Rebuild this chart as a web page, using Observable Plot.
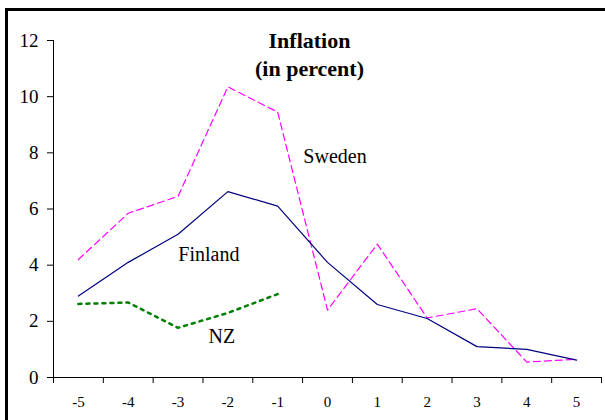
<!DOCTYPE html>
<html>
<head>
<meta charset="utf-8">
<script src="https://cdn.jsdelivr.net/npm/d3@7"></script>
<script src="https://cdn.jsdelivr.net/npm/@observablehq/plot@0.6"></script>
<style>
  html, body { margin: 0; padding: 0; background: #fff; overflow: hidden; }
  #wrap { position: relative; width: 605px; height: 420px; }
  #border { position: absolute; left: 5px; top: 8px; width: 700px; height: 500px;
            border-left: 3px solid #000; border-top: 3px solid #000; pointer-events: none; }
</style>
</head>
<body>
<div id="wrap"><div id="border"></div></div>
<script>
const periods = [-5, -4, -3, -2, -1, 0, 1, 2, 3, 4, 5];
const sweden  = [4.2, 5.85, 6.45, 10.35, 9.45, 2.4, 4.75, 2.12, 2.45, 0.55, 0.65];
const finland = [2.9, 4.1, 5.1, 6.62, 6.1, 4.1, 2.6, 2.1, 1.1, 1.0, 0.62];
const nzPeriods = [-5, -4, -3, -2, -1];
const nz      = [2.62, 2.67, 1.77, 2.3, 2.97];
const yTicks  = [0, 2, 4, 6, 8, 10, 12];
const titleLines = ["Inflation", "(in percent)"];
const seriesLabels = ["Sweden", "Finland", "NZ"];
const labelX = [0.15, -2.38, -2.12];
const labelY = [7.85, 4.38, 1.45];

const font = "Liberation Serif, Times New Roman, serif";
const boundaries = periods.map(p => p - 0.5).concat([periods[periods.length - 1] + 0.5]);
const swedenData = periods.map((p, i) => ({x: p, y: sweden[i]}));
const finlandData = periods.map((p, i) => ({x: p, y: finland[i]}));
const nzData = nzPeriods.map((p, i) => ({x: p, y: nz[i]}));
const labelData = seriesLabels.map((s, i) => ({name: s, x: labelX[i], y: labelY[i]}));

const chart = Plot.plot({
  width: 605,
  height: 420,
  marginLeft: 53,
  marginRight: 4,
  marginTop: 40,
  marginBottom: 43,
  style: {background: "transparent", color: "#000", overflow: "visible"},
  x: {domain: [boundaries[0], boundaries[boundaries.length - 1]]},
  y: {domain: [0, 12]},
  marks: [
    Plot.axisY({ticks: yTicks, tickSize: 6, tickPadding: 9, fontSize: 19, label: null, tickFormat: d => String(d)}),
    Plot.axisX({ticks: boundaries, tickSize: 6, tickFormat: () => "", label: null}),
    Plot.axisX({ticks: periods, tickSize: 0, tickPadding: 19, fontSize: 15, label: null, tickFormat: d => String(d)}),
    Plot.ruleX([boundaries[0]], {stroke: "#000", strokeWidth: 1}),
    Plot.ruleY([0], {stroke: "#000", strokeWidth: 1}),
    Plot.line(swedenData, {x: "x", y: "y", stroke: "#FF00FF", strokeWidth: 1.2, strokeDasharray: "7,4"}),
    Plot.line(finlandData, {x: "x", y: "y", stroke: "#000080", strokeWidth: 1.2}),
    Plot.line(nzData, {x: "x", y: "y", stroke: "#008000", strokeWidth: 2.5, strokeDasharray: "3,5"}),
    Plot.text(labelData, {x: "x", y: "y", text: "name", fontSize: 20, fill: "#000", textAnchor: "middle"}),
    Plot.text([titleLines.join("\n")], {frameAnchor: "top", dx: -18, dy: -12, lineAnchor: "top",
      fontSize: 22, fontWeight: "bold", lineHeight: 1.26, fill: "#000"})
  ]
});
chart.setAttribute("font-family", font);
d3.select(chart).selectAll("g, text").attr("font-family", font);
document.getElementById("wrap").prepend(chart);
</script>
</body>
</html>
